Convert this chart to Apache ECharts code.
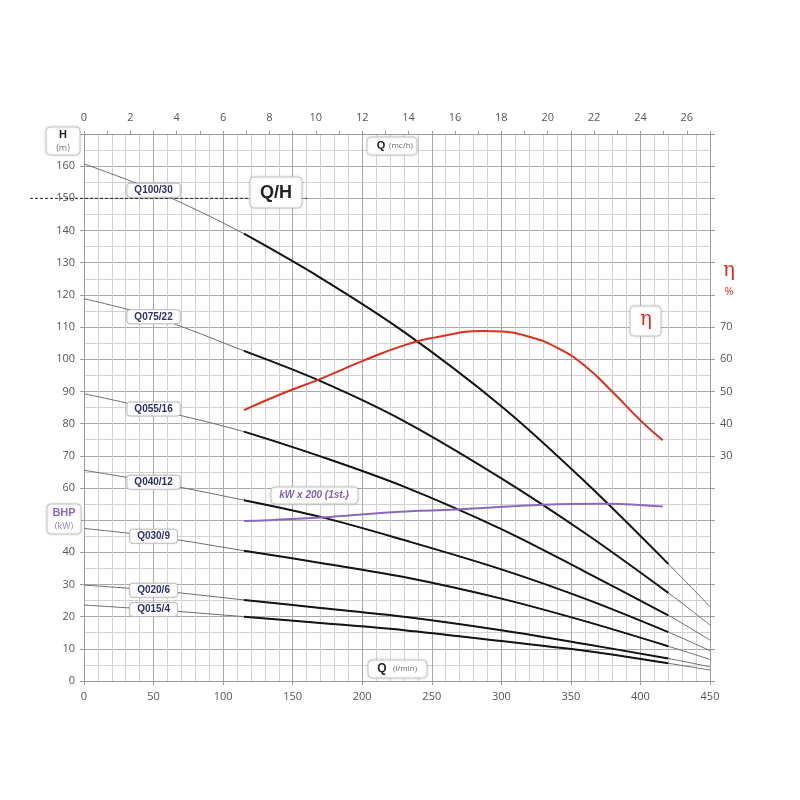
<!DOCTYPE html>
<html>
<head>
<meta charset="utf-8">
<script src="https://cdn.jsdelivr.net/npm/echarts@6/dist/echarts.min.js"></script>
<style>html,body{margin:0;padding:0;background:#fff}#c{width:800px;height:800px}</style>
</head>
<body>
<div id="c"></div>
<script>
// ---------------- DATA ----------------
const flowLpm = [0, 50, 115, 170, 230, 300, 360, 420, 450];          // Q (l/min)
const pumpNames = ['Q100/30', 'Q075/22', 'Q055/16', 'Q040/12', 'Q030/9', 'Q020/6', 'Q015/4'];
const headQ100_30 = [160.7, 152.5, 139.0, 125.3, 108.5, 85.4, 62.0, 36.4, 23.1];
const headQ075_22 = [118.8, 113.2, 102.6, 93.2, 80.8, 63.0, 46.0, 27.4, 17.4];
const headQ055_16 = [89.3, 84.5, 77.5, 69.8, 60.4, 47.2, 34.0, 20.4, 12.7];
const headQ040_12 = [65.5, 61.8, 56.2, 51.0, 43.8, 34.7, 25.6, 15.2, 9.4];
const headQ030_9  = [47.4, 45.0, 40.5, 36.7, 32.3, 25.6, 18.6, 10.8, 6.7];
const headQ020_6  = [29.8, 28.2, 25.2, 22.7, 20.0, 15.8, 11.5, 7.0, 4.4];
const headQ015_4  = [23.6, 22.2, 20.0, 18.0, 15.8, 12.4, 9.4, 5.5, 3.4];
const operatingRange = [115, 420];   // l/min, drawn bold
const labelFlow = 50;                // l/min where the model names sit

const effFlow = [115, 140, 170, 200, 230, 255, 287, 300, 320, 340, 360, 380, 400, 416];
const effPct  = [44.2, 48.9, 53.9, 59.4, 64.3, 67.0, 68.8, 68.6, 67.0, 63.6, 58.0, 49.8, 41.0, 34.8];

const bhpFlow   = [115, 177, 227, 268, 330, 376, 416];
const bhpScaled = [49.7, 51.0, 52.6, 53.3, 54.8, 55.1, 54.2];   // kW x 200, on H scale

const headAxis = {min: 0, max: 170, step: 10};
const flowAxis = {min: 0, max: 450, step: 50};
const flowM3hAxis = {min: 0, max: 27, step: 1};
const effAxis = {min: -40, max: 130, step: 10, labelFrom: 30, labelTo: 70};

// ---------------- CHART ----------------
const heads = [headQ100_30, headQ075_22, headQ055_16, headQ040_12, headQ030_9, headQ020_6, headQ015_4];
const chart = echarts.init(document.getElementById('c'), null, {renderer: 'canvas'});
const tickFont = {color: '#555', fontSize: 11, fontFamily: 'Open Sans'};

const series = [];
heads.forEach((h, i) => {
  const pts = flowLpm.map((q, j) => [q, h[j]]);
  series.push({
    type: 'line', name: pumpNames[i], data: pts, smooth: 0.35, symbol: 'none',
    lineStyle: {color: '#6e6e6e', width: 1}, z: 3, silent: true,
    markPoint: {
      symbol: 'rect', symbolSize: 1, itemStyle: {color: 'rgba(0,0,0,0)'}, silent: true,
      label: {
        show: true, position: 'inside', formatter: pumpNames[i],
        backgroundColor: '#fff', borderColor: '#c4c4c4', borderWidth: 1, borderRadius: 3,
        padding: [2, 7, 1, 7], color: '#2d2f6b', fontWeight: 'bold', fontSize: 10,
        fontFamily: 'Liberation Sans', shadowColor: 'rgba(0,0,0,0.12)', shadowBlur: 2
      },
      data: [{coord: [labelFlow, h[flowLpm.indexOf(labelFlow)]]}]
    }
  });
  series.push({
    type: 'line', data: pts.filter(p => p[0] >= operatingRange[0] && p[0] <= operatingRange[1]),
    smooth: 0.35, symbol: 'none', lineStyle: {color: '#141414', width: 2}, z: 4, silent: true
  });
});
series.push({
  type: 'line', name: 'eta', yAxisIndex: 1, data: effFlow.map((q, j) => [q, effPct[j]]),
  smooth: 0.5, symbol: 'none', lineStyle: {color: '#d8301f', width: 2}, z: 5, silent: true
});
series.push({
  type: 'line', name: 'bhp', yAxisIndex: 0, data: bhpFlow.map((q, j) => [q, bhpScaled[j]]),
  smooth: 0.4, symbol: 'none', lineStyle: {color: '#8c68bc', width: 2}, z: 5, silent: true
});

chart.setOption({
  animation: false,
  backgroundColor: '#fff',
  grid: {left: 84, top: 134, width: 626, height: 547, containLabel: false},
  xAxis: [
    {
      type: 'value', position: 'bottom', min: flowAxis.min, max: flowAxis.max, interval: flowAxis.step,
      axisLine: {show: true, onZero: false, lineStyle: {color: '#9a9a9a'}},
      axisTick: {show: true, length: 4, lineStyle: {color: '#9a9a9a'}},
      axisLabel: Object.assign({margin: 10}, tickFont),
      splitLine: {show: true, lineStyle: {color: '#a8a8a8', width: 1}},
      minorTick: {show: false, splitNumber: 5},
      minorSplitLine: {show: true, lineStyle: {color: '#d2d2d2', width: 1}}
    },
    {
      type: 'value', position: 'top', min: flowM3hAxis.min, max: flowM3hAxis.max, interval: flowM3hAxis.step,
      axisLine: {show: true, onZero: false, lineStyle: {color: '#9a9a9a'}},
      axisTick: {show: true, length: 3, inside: false, lineStyle: {color: '#9a9a9a'}},
      axisLabel: Object.assign({margin: 11, formatter: v => (v % 2 === 0 && v <= 26) ? String(v) : ''}, tickFont),
      splitLine: {show: false}
    }
  ],
  yAxis: [
    {
      type: 'value', position: 'left', min: headAxis.min, max: headAxis.max, interval: headAxis.step,
      axisLine: {show: true, onZero: false, lineStyle: {color: '#9a9a9a'}},
      axisTick: {show: true, length: 4, lineStyle: {color: '#9a9a9a'}},
      axisLabel: Object.assign({margin: 9, formatter: v => v < headAxis.max ? String(v) : ''}, tickFont),
      splitLine: {show: true, lineStyle: {color: '#a8a8a8', width: 1}},
      minorTick: {show: false, splitNumber: 2},
      minorSplitLine: {show: true, lineStyle: {color: '#d2d2d2', width: 1}}
    },
    {
      type: 'value', position: 'right', min: effAxis.min, max: effAxis.max, interval: effAxis.step,
      axisLine: {show: true, onZero: false, lineStyle: {color: '#9a9a9a'}},
      axisTick: {show: true, length: 5, lineStyle: {color: '#9a9a9a'}},
      axisLabel: Object.assign({margin: 10,
        formatter: v => (v >= effAxis.labelFrom && v <= effAxis.labelTo) ? String(v) : ''}, tickFont),
      splitLine: {show: false}
    }
  ],
  series: series
});

// ---------------- ANNOTATIONS ----------------
function box(x, y, w, h, children) {
  return {
    type: 'group', children: [
      {type: 'rect', z: 100, shape: {x: x, y: y, width: w, height: h, r: 4},
       style: {fill: '#fff', stroke: '#c8c8c8', lineWidth: 1, shadowBlur: 3, shadowColor: 'rgba(0,0,0,0.15)'}}
    ].concat(children)
  };
}
function txt(x, y, s, style) {
  return {type: 'text', z: 101, x: x, y: y, style: Object.assign({text: s, align: 'center', verticalAlign: 'middle'}, style)};
}
const y150 = chart.convertToPixel({yAxisIndex: 0}, 150);
chart.setOption({
  graphic: [
    {type: 'line', z: 1, shape: {x1: 30, y1: y150, x2: 307, y2: y150},
     style: {stroke: '#222', lineWidth: 1, lineDash: [3, 2]}},
    box(46, 127, 34, 28, [
      txt(63, 135, 'H', {font: 'bold 11px "Liberation Sans"', fill: '#222'}),
      txt(63, 148, '(m)', {font: '9px "Open Sans"', fill: '#777'})
    ]),
    box(47, 504, 34, 30, [
      txt(64, 513, 'BHP', {font: 'bold 11px "Liberation Sans"', fill: '#8c68bc'}),
      txt(64, 526, '(kW)', {font: '9px "Open Sans"', fill: '#9a82c4'})
    ]),
    box(367, 137, 50, 18, [
      txt(381, 146, 'Q', {font: 'bold 11px "Liberation Sans"', fill: '#222'}),
      txt(401, 146, '(mc/h)', {font: '8px "Open Sans"', fill: '#666'})
    ]),
    box(368, 660, 59, 18, [
      txt(382, 669, 'Q', {font: 'bold 12px "Liberation Sans"', fill: '#222'}),
      txt(405, 669, '(l/min)', {font: '8px "Open Sans"', fill: '#666'})
    ]),
    box(250, 177, 52, 31, [
      txt(276, 193, 'Q/H', {font: 'bold 18px "Liberation Sans"', fill: '#222'})
    ]),
    box(630, 306, 31, 30, [
      txt(646, 320, 'η', {font: '20px "DejaVu Serif"', fill: '#d8301f'})
    ]),
    box(271, 487, 87, 17, [
      txt(314, 495, 'kW x 200 (1st.)', {font: 'italic bold 10px "Liberation Sans"', fill: '#7f5fb0'})
    ]),
    txt(729, 271, 'η', {font: '20px "DejaVu Serif"', fill: '#d8301f'}),
    txt(729, 292, '%', {font: '11px "Open Sans"', fill: '#d8301f'})
  ]
});
</script>
</body>
</html>
